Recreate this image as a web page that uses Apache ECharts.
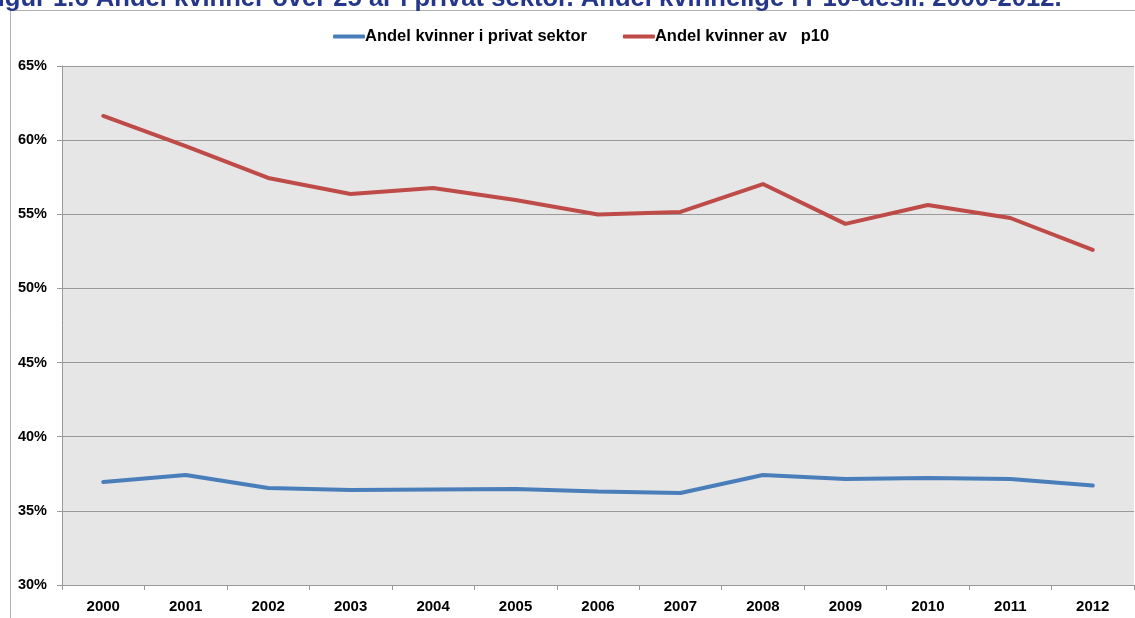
<!DOCTYPE html>
<html>
<head>
<meta charset="utf-8">
<script src="https://cdn.jsdelivr.net/npm/echarts@6/dist/echarts.min.js"></script>
<style>
html, body { margin: 0; padding: 0; background: #fff; }
#chart { width: 1135px; height: 618px; }
</style>
</head>
<body>
<div id="chart"></div>
<script>
var years = ['2000', '2001', '2002', '2003', '2004', '2005', '2006', '2007', '2008', '2009', '2010', '2011', '2012'];
var privat = [36.95, 37.42, 36.54, 36.41, 36.44, 36.48, 36.3, 36.2, 37.42, 37.15, 37.22, 37.15, 36.71];
var p10 = [61.63, 59.6, 57.45, 56.37, 56.77, 55.96, 54.99, 55.16, 57.04, 54.35, 55.63, 54.75, 52.6];
var names = ['Andel kvinner i privat sektor', 'Andel kvinner av \u00a0 p10'];
var titleText = 'Figur 1.6 Andel kvinner over 25 år i privat sektor. Andel kvinnelige i P10-desil. 2000-2012.';

var font = '"Liberation Sans", Arial, sans-serif';

var chart = echarts.init(document.getElementById('chart'));
chart.setOption({
    animation: false,
    textStyle: { fontFamily: font },
    graphic: [
        {
            type: 'rect',
            shape: { x: 10.5, y: 10.5, width: 1200, height: 700 },
            style: { fill: 'none', stroke: '#b0b0b0', lineWidth: 1 },
            z: -1
        },
        {
            type: 'text',
            left: -18,
            top: -14,
            style: {
                text: titleText,
                fill: '#25378a',
                font: 'bold 25.6px ' + font
            }
        }
    ],
    legend: {
        top: 23,
        left: 328,
        itemWidth: 32,
        itemHeight: 4,
        itemGap: 36,
        icon: 'roundRect',
        textStyle: { fontWeight: 'bold', fontSize: 16.5, color: '#000', padding: [0, 0, 0, -5] },
        data: names
    },
    grid: { left: 62, right: 1, top: 66, bottom: 33 },
    xAxis: {
        type: 'category',
        data: years,
        boundaryGap: true,
        axisLine: { lineStyle: { color: '#999', width: 1 } },
        axisTick: { show: true, length: 5, lineStyle: { color: '#999' } },
        axisLabel: { fontWeight: 'bold', fontSize: 15, color: '#000', margin: 14 }
    },
    yAxis: {
        type: 'value',
        min: 30,
        max: 65,
        interval: 5,
        axisLine: { show: true, lineStyle: { color: '#999' } },
        axisTick: { show: true, length: 5, lineStyle: { color: '#999' } },
        axisLabel: {
            fontWeight: 'bold', fontSize: 14.5, color: '#000', margin: 15,
            formatter: function (v) { return v + '%'; }
        },
        splitLine: { show: true, lineStyle: { color: '#999', width: 1 } },
        splitArea: { show: true, areaStyle: { color: ['#e6e6e6', '#e6e6e6'] } }
    },
    series: [
        {
            name: names[0],
            type: 'line',
            data: privat,
            symbol: 'none',
            lineStyle: { color: '#4a7ebb', width: 4, cap: 'round' },
            itemStyle: { color: '#4a7ebb' }
        },
        {
            name: names[1],
            type: 'line',
            data: p10,
            symbol: 'none',
            lineStyle: { color: '#be4b48', width: 4, cap: 'round' },
            itemStyle: { color: '#be4b48' }
        }
    ]
});
</script>
</body>
</html>
